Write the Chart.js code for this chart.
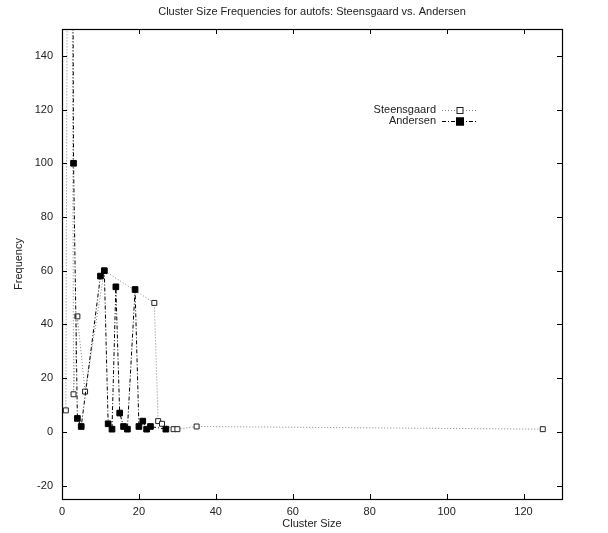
<!DOCTYPE html>
<html>
<head>
<meta charset="utf-8">
<script src="https://cdn.jsdelivr.net/npm/chart.js@4/dist/chart.umd.min.js"></script>
<style>
html,body{margin:0;padding:0;background:#fff;}
#wrap{width:608px;height:533px;}
</style>
</head>
<body>
<div id="wrap"><canvas id="c" width="608" height="533"></canvas></div>
<script>
const chartTitle = "Cluster Size Frequencies for autofs: Steensgaard vs. Andersen";
const xTitle = "Cluster Size";
const yTitle = "Frequency";
const seriesNames = ["Steensgaard", "Andersen"];

const steensX = [1, 2, 3, 4, 6, 11, 24, 25, 26, 29, 30, 35, 125];
const steensY = [8, 466, 14, 43, 15, 60, 48, 4, 3, 1, 1, 2, 1];

const andersenX = [2, 3, 4, 5, 10, 11, 12, 13, 14, 15, 16, 17, 19, 20, 21, 22, 23, 27];
const andersenY = [600, 100, 5, 2, 58, 60, 3, 1, 54, 7, 2, 1, 53, 2, 4, 1, 2, 1];

const xTicks = [0, 20, 40, 60, 80, 100, 120];
const yTicks = [-20, 0, 20, 40, 60, 80, 100, 120, 140];
const xRange = [0, 130];
const yRange = [-25, 150];

const FONT = "'Liberation Sans', Arial, Helvetica, sans-serif";

function pts(xs, ys){ return xs.map((x,i)=>({x:x, y:ys[i]})); }

const frameTicks = {
  id: 'frameTicks',
  afterDraw(chart){
    const {ctx, chartArea:a, scales} = chart;
    const L = 5;
    ctx.save();
    // title centred over the plot
    ctx.font = "11px " + FONT;
    ctx.fillStyle = '#222';
    ctx.textAlign = 'center';
    ctx.textBaseline = 'middle';
    ctx.fillText(chartTitle, (a.left + a.right) / 2, 12);

    ctx.strokeStyle = '#000';
    ctx.lineWidth = 1;
    ctx.beginPath();
    xTicks.forEach(v=>{
      const px = Math.round(scales.x.getPixelForValue(v)) + 0.5;
      ctx.moveTo(px, a.bottom); ctx.lineTo(px, a.bottom - L);
      ctx.moveTo(px, a.top); ctx.lineTo(px, a.top + L);
    });
    yTicks.forEach(v=>{
      const py = Math.round(scales.y.getPixelForValue(v)) + 0.5;
      ctx.moveTo(a.left, py); ctx.lineTo(a.left + L, py);
      ctx.moveTo(a.right, py); ctx.lineTo(a.right - L, py);
    });
    ctx.stroke();
    ctx.lineWidth = 1.2;
    ctx.strokeRect(Math.round(a.left)+0.5, Math.round(a.top)+0.5, Math.round(a.right-a.left), Math.round(a.bottom-a.top));
    ctx.restore();

    // legend (gnuplot style: text right-aligned, sample to the right)
    const ds = chart.data.datasets;
    const lx = 436, ly0 = 110, dy = 11;
    ctx.save();
    ctx.font = "11px " + FONT;
    ctx.textAlign = 'right';
    ctx.textBaseline = 'middle';
    ds.forEach((d,i)=>{
      const y = ly0 + i*dy;
      ctx.fillStyle = '#222';
      ctx.fillText(d.label, lx, y);
      ctx.strokeStyle = d.borderColor;
      ctx.lineWidth = 1;
      ctx.setLineDash(d.borderDash);
      ctx.beginPath();
      ctx.moveTo(lx + 6, y + 0.5); ctx.lineTo(lx + 42, y + 0.5);
      ctx.stroke();
      ctx.setLineDash([]);
      const mx = lx + 24, s = d.pointRadius;
      ctx.fillStyle = d.pointBackgroundColor;
      ctx.fillRect(mx - s, y - s + 0.5, 2*s, 2*s);
      ctx.strokeStyle = d.pointBorderColor;
      ctx.strokeRect(mx - s + 0.5, y - s + 1, 2*s - 1, 2*s - 1);
    });
    ctx.restore();
  }
};

new Chart(document.getElementById('c'), {
  type: 'scatter',
  data: {
    datasets: [
      {
        label: seriesNames[0],
        data: pts(steensX, steensY),
        order: 2,
        showLine: true,
        borderColor: '#808080',
        borderWidth: 1,
        borderDash: [1, 2],
        pointStyle: 'rect',
        pointRadius: 3.5,
        pointBorderWidth: 1,
        pointBackgroundColor: '#ffffff',
        pointBorderColor: '#222',
        pointHoverRadius: 3.5,
        tension: 0
      },
      {
        label: seriesNames[1],
        data: pts(andersenX, andersenY),
        order: 1,
        showLine: true,
        borderColor: '#000000',
        borderWidth: 1,
        borderDash: [4, 2, 1, 2],
        pointStyle: 'rect',
        pointRadius: 4,
        pointBorderWidth: 1,
        pointBackgroundColor: '#000000',
        pointBorderColor: '#000000',
        tension: 0
      }
    ]
  },
  options: {
    responsive: false,
    animation: false,
    devicePixelRatio: 1,
    layout: { padding: { top: 29, right: 46, bottom: 0, left: 0 } },
    plugins: {
      legend: { display: false },
      tooltip: { enabled: false },
      title: { display: false }
    },
    scales: {
      x: {
        type: 'linear',
        min: xRange[0], max: xRange[1],
        afterBuildTicks: s => { s.ticks = xTicks.map(v => ({value: v})); },
        afterFit: s => { s.height = 34; },
        grid: { display: false, drawTicks: false },
        border: { display: false },
        ticks: { color: '#222', font: { family: FONT, size: 11 }, padding: 6, maxRotation: 0 },
        title: { display: true, text: xTitle, color: '#222', font: { family: FONT, size: 11 }, padding: { top: 0, bottom: 2 } }
      },
      y: {
        type: 'linear',
        min: yRange[0], max: yRange[1],
        afterBuildTicks: s => { s.ticks = yTicks.map(v => ({value: v})); },
        afterFit: s => { s.width = 62; },
        grid: { display: false, drawTicks: false },
        border: { display: false },
        ticks: { color: '#222', font: { family: FONT, size: 11 }, padding: 9 },
        title: { display: true, text: yTitle, color: '#222', font: { family: FONT, size: 11 }, padding: { top: 12, bottom: 0 } }
      }
    }
  },
  plugins: [frameTicks]
});
</script>
</body>
</html>
